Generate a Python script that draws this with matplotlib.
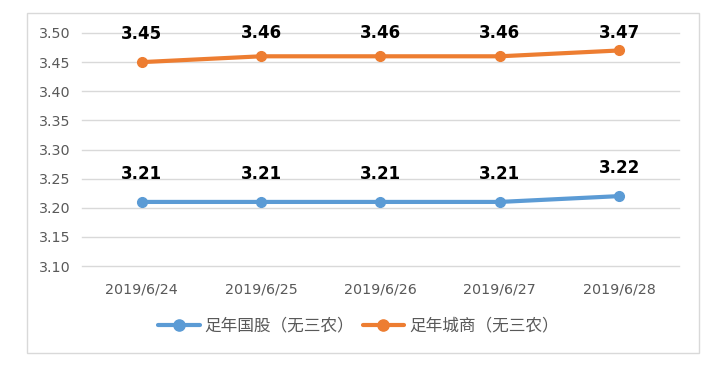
import matplotlib.pyplot as plt
from matplotlib.patches import Rectangle

plt.rcParams['font.family'] = ['DejaVu Sans', 'Noto Sans CJK SC']

# data
dates = ["2019/6/24", "2019/6/25", "2019/6/26", "2019/6/27", "2019/6/28"]
guogu = [3.21, 3.21, 3.21, 3.21, 3.22]
chengshang = [3.45, 3.46, 3.46, 3.46, 3.47]
names = ["足年国股（无三农）", "足年城商（无三农）"]
yticks = [3.10, 3.15, 3.20, 3.25, 3.30, 3.35, 3.40, 3.45, 3.50]

blue = "#5B9BD5"
orange = "#ED7D31"
grid_c = "#D9D9D9"
text_c = "#595959"

fig = plt.figure(figsize=(7.21, 3.65), dpi=100)
fig.patches.append(Rectangle((0.0374, 0.033), 0.932, 0.931, transform=fig.transFigure,
                             fill=False, edgecolor=grid_c, linewidth=1.0))
ax = fig.add_axes([0.1137, 0.2712, 0.828, 0.6384])

x = list(range(len(dates)))
for vals, col, name in [(guogu, blue, names[0]), (chengshang, orange, names[1])]:
    ax.plot(x, vals, color=col, linewidth=3, marker='o', markersize=7,
            solid_capstyle='round', label=name, zorder=3)
    for xi, v in zip(x, vals):
        # excel keeps labels inside the plot area
        ly = min(v + 0.048, 3.50)
        ax.text(xi, ly, f"{v:.2f}", ha='center', va='center', fontsize=12,
                fontweight='bold', color='black', zorder=4)

ax.set_xlim(-0.5, len(dates) - 0.5)
ax.set_ylim(3.10, 3.50)
ax.set_yticks(yticks)
ax.set_yticklabels([f"{t:.2f}" for t in yticks])
ax.set_xticks(x)
ax.set_xticklabels(dates)
ax.grid(axis='y', color=grid_c, linewidth=1)
for gl in ax.get_ygridlines():
    gl.set_clip_on(False)
ax.set_axisbelow(True)
for s in ax.spines.values():
    s.set_visible(False)
ax.tick_params(axis='both', length=0, colors=text_c, labelsize=10.3)
ax.tick_params(axis='y', pad=8)
ax.tick_params(axis='x', pad=12)

fig.legend(loc='center', bbox_to_anchor=(0.497, 0.107), ncol=2, frameon=False,
           prop={'family': ['Noto Sans CJK SC'], 'size': 12}, labelcolor=text_c,
           handlelength=2.5, handletextpad=0.3, columnspacing=0.5, markerscale=1.15)

fig.savefig("out.png", dpi=100)
